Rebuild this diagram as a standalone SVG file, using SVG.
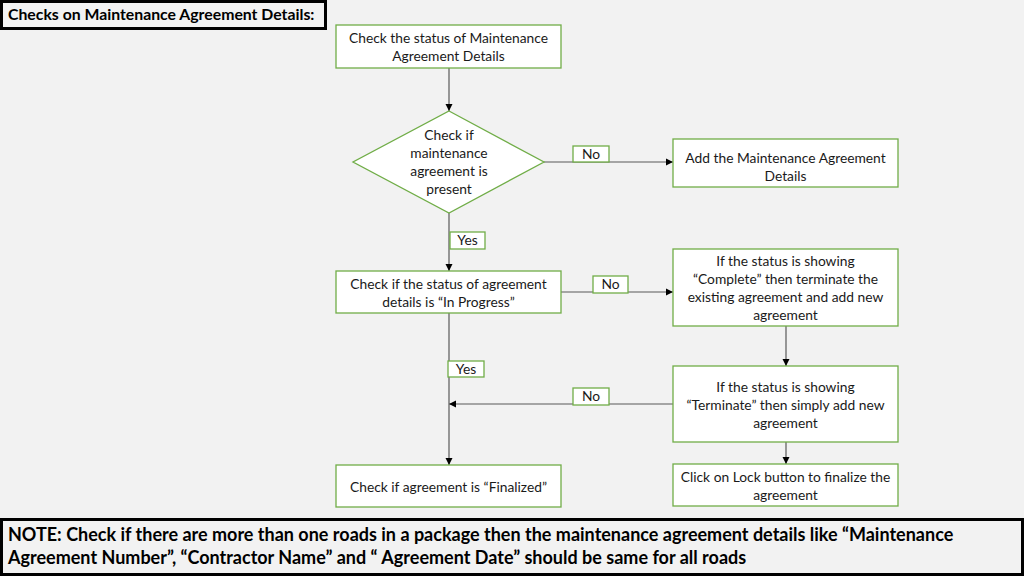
<svg xmlns="http://www.w3.org/2000/svg" width="1024" height="576" viewBox="0 0 1024 576">
<defs>
<marker id="arr" markerWidth="8" markerHeight="8" refX="7" refY="4" orient="auto" markerUnits="userSpaceOnUse">
<path d="M0,0.5 L7,4 L0,7.5 Z" fill="#000"/>
</marker>
<style>
.node{fill:#fff;stroke:#70ad47;stroke-width:1.3}
.lbl{fill:#fff;stroke:#70ad47;stroke-width:1.3}
.t{font-family:Lato,"Open Sans","Liberation Sans",sans-serif;font-size:13.8px;fill:#1a1a1a;text-anchor:middle}
.c{stroke:#595959;stroke-width:1.2;fill:none;marker-end:url(#arr)}
.b{font-family:Lato,"Liberation Sans",sans-serif;font-weight:bold;fill:#000}
</style>
</defs>
<rect width="1024" height="576" fill="#f2f2f2"/>
<g id="title">
<rect x="1.5" y="1.5" width="324" height="27" fill="#f2f2f2" stroke="#000" stroke-width="3"/>
<text class="b" x="8" y="20" font-size="15.8">Checks on Maintenance Agreement Details:</text>
</g>
<g id="connectors">
<line class="c" x1="449" y1="68" x2="449" y2="111"/>
<line class="c" x1="544" y1="162" x2="673" y2="162"/>
<line class="c" x1="449" y1="213" x2="449" y2="271"/>
<line class="c" x1="561" y1="292" x2="673" y2="292"/>
<line class="c" x1="786" y1="326" x2="786" y2="366"/>
<line class="c" x1="673" y1="404" x2="449" y2="404"/>
<line class="c" x1="449" y1="313" x2="449" y2="465"/>
<line class="c" x1="786" y1="442" x2="786" y2="464"/>
</g>
<g id="n1">
<rect class="node" x="336" y="25" width="225" height="43"/>
<text class="t" x="448.5" y="43">Check the status of Maintenance</text>
<text class="t" x="448.5" y="61">Agreement Details</text>
</g>
<g id="n2">
<polygon class="node" points="449,111 544,162 449,213 353,162"/>
<text class="t" x="449" y="140">Check if</text>
<text class="t" x="449" y="158">maintenance</text>
<text class="t" x="449" y="176">agreement is</text>
<text class="t" x="449" y="194">present</text>
</g>
<g id="l1">
<rect class="lbl" x="573" y="146" width="36" height="16"/>
<text class="t" x="591" y="159">No</text>
</g>
<g id="n3">
<rect class="node" x="673" y="139" width="225" height="48"/>
<text class="t" x="785.5" y="163">Add the Maintenance Agreement</text>
<text class="t" x="785.5" y="181">Details</text>
</g>
<g id="l2">
<rect class="lbl" x="450" y="232" width="35" height="17"/>
<text class="t" x="467.5" y="245">Yes</text>
</g>
<g id="n4">
<rect class="node" x="336" y="271" width="225" height="42"/>
<text class="t" x="448.5" y="289">Check if the status of agreement</text>
<text class="t" x="448.5" y="307">details is “In Progress”</text>
</g>
<g id="l3">
<rect class="lbl" x="593" y="276" width="35" height="17"/>
<text class="t" x="610.5" y="289">No</text>
</g>
<g id="n5">
<rect class="node" x="673" y="249" width="225" height="77"/>
<text class="t" x="785.5" y="266">If the status is showing</text>
<text class="t" x="785.5" y="284">“Complete” then terminate the</text>
<text class="t" x="785.5" y="302">existing agreement and add new</text>
<text class="t" x="785.5" y="320">agreement</text>
</g>
<g id="l4">
<rect class="lbl" x="448" y="361" width="36" height="16"/>
<text class="t" x="466" y="374">Yes</text>
</g>
<g id="l5">
<rect class="lbl" x="573" y="388" width="36" height="17"/>
<text class="t" x="591" y="401">No</text>
</g>
<g id="n6">
<rect class="node" x="673" y="366" width="225" height="76"/>
<text class="t" x="785.5" y="392">If the status is showing</text>
<text class="t" x="785.5" y="410">“Terminate” then simply add new</text>
<text class="t" x="785.5" y="428">agreement</text>
</g>
<g id="n7">
<rect class="node" x="336" y="465" width="225" height="42"/>
<text class="t" x="448.5" y="492">Check if agreement is “Finalized”</text>
</g>
<g id="n8">
<rect class="node" x="673" y="464" width="225" height="42"/>
<text class="t" x="785.5" y="482">Click on Lock button to finalize the</text>
<text class="t" x="785.5" y="500">agreement</text>
</g>
<g id="note">
<rect x="1.5" y="519.5" width="1021" height="55" fill="#f2f2f2" stroke="#000" stroke-width="3"/>
<text class="b" x="8" y="541" font-size="18">NOTE: Check if there are more than one roads in a package then the maintenance agreement details like “Maintenance</text>
<text class="b" x="8" y="564" font-size="18">Agreement Number”, “Contractor Name” and “ Agreement Date” should be same for all roads</text>
</g>
</svg>
